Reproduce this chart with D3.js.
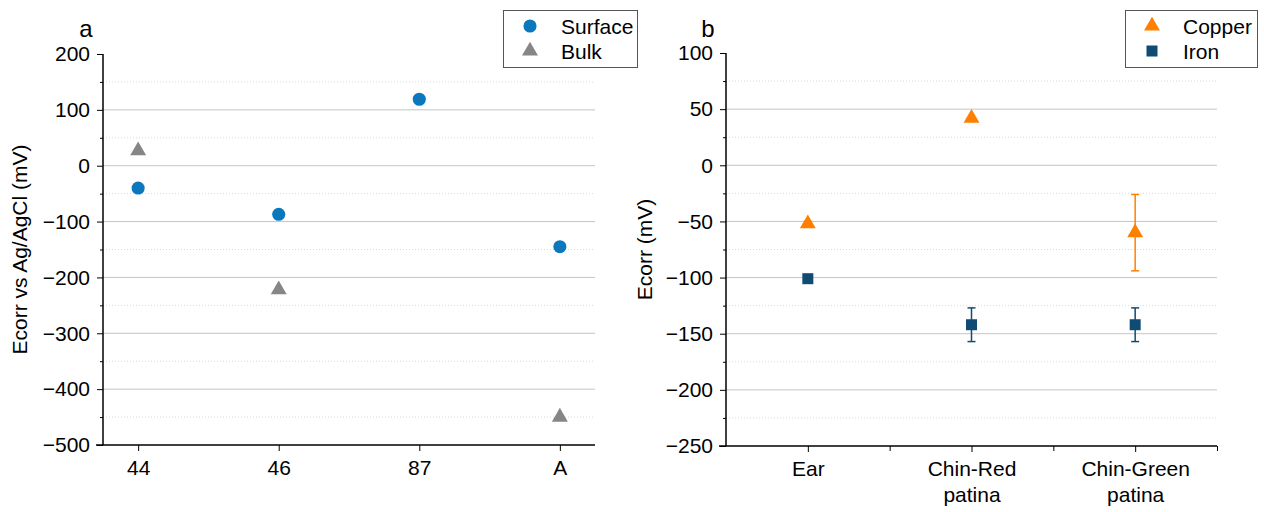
<!DOCTYPE html>
<html>
<head>
<meta charset="utf-8">
<script src="https://cdn.jsdelivr.net/npm/d3@7"></script>
<style>
  body { margin: 0; background: #fff; }
  svg { display: block; font-family: "Liberation Sans", Arial, sans-serif; }
  .grid-major { stroke: #c4c4c4; stroke-width: 1; }
  .grid-minor { stroke: #dadada; stroke-width: 1; stroke-dasharray: 1,2; }
  .axis path, .axis line { stroke: #000; }
  .axis text { font-size: 21px; fill: #000; }
</style>
</head>
<body>
<svg width="1264" height="512"></svg>
<script>
// panel a
var catsA = ["44", "46", "87", "A"];
var surface = [-40, -87, 119, -145];
var bulk = [27, -222, null, -450];
var ticksA = [200, 100, 0, -100, -200, -300, -400, -500];

// panel b
var catsB = ["Ear", "Chin-Red patina", "Chin-Green patina"];
var copper = [-52, 42, -60];
var copperErr = [2, 0, 34];
var iron = [-101, -142, -142];
var ironErr = [3, 15, 15];
var ticksB = [100, 50, 0, -50, -100, -150, -200, -250];

var svg = d3.select("svg");

function drawPanel(opt) {
  var g = svg.append("g");
  var x = d3.scaleLinear().domain(opt.xDomain).range(opt.xRange);
  var y = d3.scaleLinear().domain(opt.yDomain).range(opt.yRange);
  var step = opt.ticks[0] - opt.ticks[1];
  var minor = opt.ticks.slice(0, -1).map(function(t) { return t - step / 2; });

  // grid
  g.selectAll(".grid-minor")
    .data(minor)
    .enter().append("line")
    .attr("class", "grid-minor")
    .attr("x1", opt.xRange[0]).attr("x2", opt.xRange[1])
    .attr("y1", function(d) { return y(d); }).attr("y2", function(d) { return y(d); });

  g.selectAll(".grid-major")
    .data(opt.ticks.slice(1, -1))
    .enter().append("line")
    .attr("class", "grid-major")
    .attr("x1", opt.xRange[0]).attr("x2", opt.xRange[1])
    .attr("y1", function(d) { return y(d); }).attr("y2", function(d) { return y(d); });

  // y axis
  var yAxis = g.append("g")
    .attr("class", "axis")
    .attr("transform", "translate(" + opt.xRange[0] + ",0)")
    .call(d3.axisLeft(y).tickValues(opt.ticks).tickSize(6).tickPadding(7)
      .tickFormat(function(d) { return d < 0 ? "\u2212" + Math.abs(d) : d; }));
  yAxis.select(".domain").remove();
  yAxis.append("line")
    .attr("x1", 0).attr("x2", 0)
    .attr("y1", opt.yRange[0]).attr("y2", opt.yRange[1])
    .attr("stroke", "#000").attr("stroke-width", 1.5);

  g.append("g")
    .attr("class", "axis")
    .attr("transform", "translate(" + opt.xRange[0] + ",0)")
    .call(d3.axisLeft(y).tickValues(minor).tickSize(3).tickFormat(""))
    .select(".domain").remove();

  // x axis
  var xAxis = g.append("g")
    .attr("class", "axis")
    .attr("transform", "translate(0," + opt.yRange[0] + ")")
    .call(d3.axisBottom(x).tickValues(opt.cats.map(function(c, i) { return i; }))
      .tickSize(6).tickPadding(8).tickFormat(""));
  xAxis.select(".domain").remove();
  xAxis.append("line")
    .attr("x1", opt.xRange[0] - 7).attr("x2", opt.xRange[1])
    .attr("stroke", "#000").attr("stroke-width", 1.5);

  if (opt.xMinor) {
    g.append("g")
      .attr("class", "axis")
      .attr("transform", "translate(0," + opt.yRange[0] + ")")
      .call(d3.axisBottom(x).tickValues(opt.xMinor).tickSize(5).tickFormat(""))
      .select(".domain").remove();
  }

  xAxis.selectAll(".tick").each(function(d) {
    var lines = opt.cats[d].split(" ");
    var t = d3.select(this).append("text")
      .attr("text-anchor", "middle")
      .attr("fill", "#000")
      .attr("y", 30);
    lines.forEach(function(l, i) {
      t.append("tspan").attr("x", 0).attr("dy", i === 0 ? 0 : 26).text(l);
    });
  });

  // axis title
  g.append("text")
    .attr("transform", "translate(" + opt.titleX + "," + (opt.yRange[0] + opt.yRange[1]) / 2 + ") rotate(-90)")
    .attr("text-anchor", "middle")
    .style("font-size", "21px")
    .text(opt.title);

  // panel letter
  g.append("text")
    .attr("x", opt.letterX).attr("y", 37)
    .attr("text-anchor", "middle")
    .style("font-size", "24px")
    .text(opt.letter);

  // series
  opt.series.forEach(function(s) {
    var pts = s.values.map(function(v, i) { return { i: i, v: v, e: s.err ? s.err[i] : 0 }; })
      .filter(function(p) { return p.v !== null; });

    var eb = g.append("g").attr("stroke", s.color).attr("stroke-width", 1.5);
    pts.filter(function(p) { return p.e > 0; }).forEach(function(p) {
      var cx = x(p.i);
      eb.append("line").attr("x1", cx).attr("x2", cx).attr("y1", y(p.v - p.e)).attr("y2", y(p.v + p.e));
      eb.append("line").attr("x1", cx - 4).attr("x2", cx + 4).attr("y1", y(p.v - p.e)).attr("y2", y(p.v - p.e));
      eb.append("line").attr("x1", cx - 4).attr("x2", cx + 4).attr("y1", y(p.v + p.e)).attr("y2", y(p.v + p.e));
    });

    g.selectAll(null)
      .data(pts)
      .enter().append("path")
      .attr("d", d3.symbol().type(s.type).size(s.size))
      .attr("fill", s.color)
      .attr("transform", function(p) { return "translate(" + x(p.i) + "," + y(p.v) + ")"; });
  });

  // legend
  var lg = g.append("g").attr("transform", "translate(" + opt.legend[0] + "," + opt.legend[1] + ")");
  lg.append("rect")
    .attr("x", 0.5).attr("y", 0.5)
    .attr("width", opt.legend[2]).attr("height", 57)
    .attr("fill", "#fff").attr("stroke", "#555").attr("stroke-width", 1);
  opt.series.forEach(function(s, i) {
    lg.append("path")
      .attr("d", d3.symbol().type(s.type).size(s.size))
      .attr("fill", s.color)
      .attr("transform", "translate(27," + (16 + i * 25) + ")");
    lg.append("text")
      .attr("x", 58).attr("y", 24 + i * 25)
      .style("font-size", "21px")
      .text(s.name);
  });
}

drawPanel({
  cats: catsA,
  xDomain: [-0.25, 3.25], xRange: [103, 595],
  yDomain: [-500, 200], yRange: [445, 54],
  ticks: ticksA,
  title: "Ecorr vs Ag/AgCl (mV)", titleX: 27,
  letter: "a", letterX: 86,
  legend: [503, 10, 134],
  series: [
    { name: "Surface", values: surface, color: "#0b78bd", type: d3.symbolCircle, size: 135 },
    { name: "Bulk", values: bulk, color: "#868686", type: d3.symbolTriangle, size: 110 }
  ]
});

drawPanel({
  cats: catsB,
  xDomain: [-0.5, 2.5], xRange: [726, 1217],
  yDomain: [-250, 100], yRange: [446, 53],
  ticks: ticksB,
  xMinor: [0.5, 1.5, 2.5],
  title: "Ecorr (mV)", titleX: 652,
  letter: "b", letterX: 708,
  legend: [1125, 10, 132],
  series: [
    { name: "Copper", values: copper, err: copperErr, color: "#ff8000", type: d3.symbolTriangle, size: 110 },
    { name: "Iron", values: iron, err: ironErr, color: "#0f4b73", type: d3.symbolSquare, size: 121 }
  ]
});
</script>
</body>
</html>
